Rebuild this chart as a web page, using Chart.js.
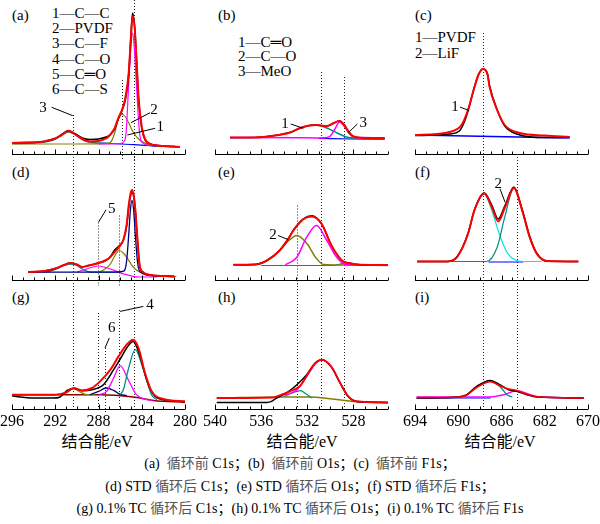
<!DOCTYPE html>
<html>
<head>
<meta charset="utf-8" />
<title>XPS spectra</title>
<script src="https://cdn.jsdelivr.net/npm/chart.js@4.4.0/dist/chart.umd.min.js"></script>
<style>
    body { margin: 0; background: #fff; }
    #fig { position: relative; width: 600px; height: 524px; background: #fff; overflow: hidden;
           font-family: "Liberation Serif", "Noto Sans CJK SC", serif; color: #000; }
    #fig canvas { position: absolute; }
    .t { position: absolute; font-size: 15px; line-height: 16px; white-space: nowrap; }
    .ax { position: absolute; font-size: 16px; line-height: 18px; white-space: nowrap; transform: translateX(-50%); }
    .cap { position: absolute; left: 0; width: 600px; text-align: center; font-size: 14px; line-height: 16px; white-space: nowrap; }
    .cap .z { color: #555; }
</style>
</head>
<body>
<div id="fig">
    <div class="t" style="left:12px;top:7px">(a)</div>
    <div class="t" style="left:218px;top:7px">(b)</div>
    <div class="t" style="left:415px;top:7px">(c)</div>
    <div class="t" style="left:12px;top:164px">(d)</div>
    <div class="t" style="left:218px;top:164px">(e)</div>
    <div class="t" style="left:415px;top:164px">(f)</div>
    <div class="t" style="left:12px;top:289px">(g)</div>
    <div class="t" style="left:218px;top:289px">(h)</div>
    <div class="t" style="left:415px;top:289px">(i)</div>

    <div class="t" style="left:52px;top:5px">1—C—C</div>
    <div class="t" style="left:52px;top:20px">2—PVDF</div>
    <div class="t" style="left:52px;top:35px">3—C—F</div>
    <div class="t" style="left:52px;top:51px">4—C—O</div>
    <div class="t" style="left:52px;top:66px">5—C═O</div>
    <div class="t" style="left:52px;top:81px">6—C—S</div>

    <div class="t" style="left:238px;top:34px">1—C═O</div>
    <div class="t" style="left:238px;top:48px">2—C—O</div>
    <div class="t" style="left:238px;top:63px">3—MeO</div>

    <div class="t" style="left:415px;top:29px">1—PVDF</div>
    <div class="t" style="left:415px;top:45px">2—LiF</div>

    <div class="ax" style="left:97px;top:433px">结合能/eV</div>
    <div class="ax" style="left:302px;top:433px">结合能/eV</div>
    <div class="ax" style="left:500px;top:433px">结合能/eV</div>

    <div class="cap" style="top:456px">(a)&nbsp; <span class="z">循环前</span> C1s；(b)&nbsp; <span class="z">循环前</span> O1s；(c)&nbsp; <span class="z">循环前</span> F1s；</div>
    <div class="cap" style="top:479px">(d) STD <span class="z">循环后</span> C1s；(e) STD <span class="z">循环后</span> O1s；(f) STD <span class="z">循环后</span> F1s；</div>
    <div class="cap" style="top:501px">(g) 0.1% TC <span class="z">循环后</span> C1s；(h) 0.1% TC <span class="z">循环后</span> O1s；(i) 0.1% TC <span class="z">循环后</span> F1s</div>
</div>
<script>
// binding energy axes (eV) for the three columns: C1s, O1s, F1s
var c1sRange = [280, 296];
var o1sRange = [525, 540];
var f1sRange = [678, 694];
var c1sTicks = [296, 292, 288, 284, 280];
var o1sTicks = [540, 536, 532, 528];
var f1sTicks = [694, 690, 686, 682, 678];
var c1sTickText = ['296', '292', '288', '284', '280'];
var o1sTickText = ['540', '536', '532', '528'];
var f1sTickText = ['694', '690', '686', '682', '670'];

// (a) before cycling, C1s  [eV, intensity]
var a_exp = [[296,11],[294.5,11.5],[293.4,12],[292.5,14],[292,15.5],[291.4,19.5],[290.8,23.5],[290.2,20.5],[289.5,16],[288.8,14.5],[288,15],[287.3,17],[286.9,19.5],[286.5,25],[286.2,34],[285.8,44],[285.5,55],[285.2,80],[285.0,118],[284.85,141],[284.65,126],[284.5,97],[284.3,56],[284.0,26],[283.7,14],[283.2,10],[282.5,8.5],[281,7.5],[280.5,7]];
var a_fit = [[296,11],[294.5,11.5],[293.4,12],[292.5,14],[292,15.5],[291.4,19],[290.8,23],[290.2,20],[289.5,15],[288.8,12.5],[288,13],[287.3,15.5],[286.9,19.5],[286.5,26],[286.2,35],[285.8,45],[285.5,57],[285.2,82],[285.0,117],[284.85,138],[284.65,126],[284.5,98],[284.3,57],[284.0,27],[283.7,15],[283.2,10],[282.5,8.5],[281,7.5],[280.5,7]];
var a_cf = [[296,10.5],[294,11],[293,12],[292.2,14],[291.5,18],[290.8,22],[290.1,19],[289.5,14.5],[288.8,12],[288,11],[287,10.5]];
var a_pvdf = [[296,10],[290,10],[288,10.2],[287.2,10.5],[286.9,11.5],[286.5,21],[286.2,34],[285.85,40],[285.5,37],[285.2,31],[284.8,22],[284.2,14],[283.2,9],[282,7.5],[280.5,7]];
var a_cc = [[288,10],[286,10.3],[285.6,13],[285.45,21],[285.2,71],[285.0,108],[284.85,121],[284.7,108],[284.5,71],[284.2,21],[284.0,12],[283.5,9],[282,8],[281,7.5]];
var a_bg = [[287.9,11],[285,9.5],[283.5,8.5],[282.6,7.5]];

// (b) before cycling, O1s
var b_exp = [[538.7,16.5],[536.5,16.5],[535.8,17],[534.5,19],[533.5,21.5],[532.6,26],[531.8,28.5],[531.3,29.5],[530.8,28.5],[530.3,28],[529.8,30],[529.2,33.5],[528.8,29.5],[528.4,22],[528.0,17.5],[527.5,16.5],[525.3,16]];
var b_fit = [[538.7,16.5],[536.5,16.5],[535.8,17],[534.5,19],[533.5,21.5],[532.6,26],[531.8,28.5],[531.3,29],[530.8,28.5],[530.3,28],[529.8,30.5],[529.2,33],[528.8,29],[528.4,22],[528.0,17.5],[527.5,16.5],[525.3,16]];
var b_co1 = [[538.7,16],[536.5,16.5],[535.8,17],[534.5,19],[533.5,21.5],[532.6,26],[531.8,28.5],[531.3,29],[530.8,28],[530.3,26],[529.4,21],[528.6,17],[527.5,15.5],[525.3,15]];
var b_meo = [[538.7,16.5],[533,16.3],[531,16],[530.3,16.5],[530.0,18],[529.6,25],[529.2,32],[528.8,28],[528.4,21],[528.0,17],[527.5,16],[525.3,16]];
var b_bg = [[531,15.5],[528,15],[525.3,14.7]];

// (c) before cycling, F1s
var c_exp = [[694,18.5],[692,19],[690.8,20],[689.9,23],[689.4,33],[689.1,43],[688.5,67],[688.1,80],[687.7,85],[687.3,80],[687.1,68],[686.4,44],[685.7,28],[684.3,19],[683.3,17],[682,16.5],[681,16.5],[679.7,17]];
var c_fit = [[694,19],[692,20],[690.8,22],[689.7,29],[689.1,44],[688.5,67],[688.1,80],[687.7,85],[687.3,80],[687.1,67],[686.4,44],[685.7,29],[684.3,21],[682,18.5],[679.7,17]];
var c_bg = [[694,19],[679.7,16]];

// (d) STD after cycling, C1s
var d_exp = [[294.5,8],[293,9],[292,11.5],[291.2,15],[290.6,17],[290,15.5],[289.5,13],[289.1,14],[288.5,15.5],[288.0,17],[287.4,19],[287.0,22],[286.5,30],[286.1,34],[285.7,40],[285.4,54],[285.2,73],[285.0,86],[284.9,88],[284.75,84],[284.6,70],[284.4,40],[284.2,15],[283.9,8],[283.2,5],[281,3.5]];
var d_fit = [[294.5,8],[293,9],[292,11.5],[291.2,15],[290.6,17],[290,15.5],[289.5,13],[289.1,14],[288.5,15.5],[288.0,17],[287.4,19.5],[287.0,22],[286.5,28],[286.1,33],[285.7,40],[285.4,55],[285.2,75],[285.0,88],[284.9,90],[284.75,85],[284.6,71],[284.4,41],[284.2,15],[283.9,8],[283.2,5],[281,3.5]];
var d_cf = [[294.5,8],[292.6,8.5],[291.9,11],[291.2,14.5],[290.6,16],[290,14.5],[289.5,11],[288.8,8],[286,7.8]];
var d_c2o = [[290.0,8],[289.1,11],[288.5,13],[288.0,14],[287.5,13],[286.9,11],[285.7,6.2],[284.2,3],[282.6,3]];
var d_pvdf = [[287.9,8],[287.4,11],[286.9,16],[286.5,24],[286.1,29.5],[285.7,27],[285.4,23],[284.8,13],[284.2,8],[282.9,4.5],[280.8,3.5]];
var d_cc = [[294.5,7.8],[286.5,7.8],[285.8,8.5],[285.6,9.5],[285.4,19],[285.2,46],[285.05,70],[284.9,79.5],[284.75,70],[284.6,46],[284.4,19],[284.2,8.8],[283.2,4.5],[281,3.5]];

// (e) STD after cycling, O1s
var e_exp = [[538.4,15.2],[536.5,15.5],[535.5,19.5],[534.4,29.5],[533.6,42],[533.2,50],[532.3,61.5],[531.6,64.2],[530.75,56],[529.9,34.5],[529.0,19.5],[528.4,17],[527.4,15.2],[525,15]];
var e_fit = [[538.4,15.2],[536.5,15.5],[535.5,19.5],[534.4,29.5],[533.6,42],[533.2,49.5],[532.3,61],[531.6,63.5],[530.75,56],[529.9,34.5],[529.0,19.5],[528.4,17],[527.4,15.2],[525,15]];
var e_co = [[538.4,15.2],[536.5,15.5],[535.5,19.5],[534.4,29.5],[533.6,39.5],[532.9,44.5],[532.0,36],[531.3,23],[530.6,15.5],[529,15],[525,14.5]];
var e_main = [[533.9,15.2],[532.9,22.8],[532.05,42.8],[531.2,54.5],[530.3,39.5],[529.45,22.8],[528.6,15.2],[525,15]];
var e_meo = [[536,14.5],[529.7,14.5],[528.6,17.2],[527.7,14.5],[526,14.5]];

// (f) STD after cycling, F1s
var f_exp = [[693.8,18.5],[691,18.5],[690.1,23.5],[689.1,46.5],[688.5,70],[687.6,87],[686.9,75],[686.3,61],[685.7,74],[684.85,93],[684.1,71],[683.4,44],[682.75,27],[681.8,19],[678.9,18.5]];
var f_fit = [[693.8,18.5],[691,18.5],[690.1,23],[689.1,46],[688.5,70],[687.6,86.5],[686.9,73],[686.3,58.5],[685.7,72],[684.85,92],[684.1,70],[683.4,43],[682.75,26.5],[681.8,19],[678.9,18.5]];
var f_pvdf = [[690.9,18.5],[690.1,22.8],[689.1,46.2],[688.5,69.5],[687.6,86.2],[686.9,69.5],[686.1,42.8],[685.4,26.2],[684.0,18.5],[682.3,18.5]];
var f_lif = [[691,18.5],[687.4,18.5],[686.4,32.8],[685.7,62.8],[684.85,91.8],[684.1,69.5],[683.4,42.8],[682.75,26.2],[681.8,18.5],[678.9,18.5]];
var f_bg = [[687.2,18],[684,18]];

// (g) 0.1% TC after cycling, C1s
var g_exp = [[296,13.3],[295.2,12],[294.3,11],[292.2,11],[291.6,11.8],[291.3,14.5],[290.9,18.5],[290.3,20.6],[289.9,19.5],[289.55,18.3],[288.6,19.3],[287.55,24.3],[286.6,39.3],[285.85,52.6],[285.4,61],[284.8,67.6],[284.15,52.6],[283.55,29.3],[282.9,14.3],[282.0,9.3],[280,7.6]];
var g_fit = [[296,14.3],[292,14.3],[291.0,16.6],[290.3,21],[289.55,18.6],[288.6,21],[287.85,27.6],[286.9,39.3],[286.15,52.6],[285.4,64.3],[284.8,69.3],[284.3,61],[283.7,36],[283.1,18],[282.0,10],[280,7.6]];
var g_bg = [[296,14.3],[287.9,14.3],[284.8,12],[282.9,8.6],[280,6.6]];
var g_cf = [[291.8,14.3],[290.9,16.5],[290.3,20.6],[289.7,17],[289.1,14.3],[288.3,14.3]];
var g_cs = [[288.8,14.3],[288.0,17.6],[287.3,21],[286.6,18.6],[286.0,14.6],[285.4,13.5]];
var g_co = [[287.9,14.3],[287.25,17.6],[286.6,31],[286.0,43.3],[285.25,29.3],[284.5,14.3],[283.55,9.3],[283,8.5]];
var g_cc = [[286.0,14.3],[285.7,19.3],[285.25,39.3],[284.6,59.3],[283.85,39.3],[283.1,14.3],[282.6,9.3]];

// (h) 0.1% TC after cycling, O1s
var h_exp = [[539.85,6.6],[535.5,6.6],[535.1,7.6],[534.65,11],[533.8,16],[532.9,24.3],[532.05,34.3],[531.3,46],[530.75,49.3],[529.9,42],[529.15,26],[528.45,12.6],[527.7,7.6],[525,6.6]];
var h_fit = [[539.85,11],[535,11.5],[534.4,13.6],[533.5,17.6],[532.6,23.3],[531.8,38],[531.3,46],[530.75,49.3],[529.9,42],[529.15,26],[528.45,12.6],[527.7,7.6],[525,6.6]];
var h_main = [[533.9,13.6],[532.9,19.3],[532.05,32.6],[531.3,45.3],[530.75,49.3],[529.9,42],[529.15,26],[528.45,12.6],[527.7,7.6],[526,6.6]];
var h_co = [[534.0,12.6],[533.3,16],[532.6,18.3],[532.1,15],[531.6,11]];
var h_bg = [[539.85,11],[533.8,12],[531.8,12],[529.8,10],[527.7,7.3],[525,6]];

// (i) 0.1% TC after cycling, F1s
var i_exp = [[693.85,11],[690.5,11.5],[689.2,14.3],[688.3,22.6],[687.05,28.6],[686.15,24.3],[685.35,19.3],[684.6,17.6],[683.65,14.3],[682.75,12],[678.4,11]];
var i_fit = [[693.85,11.5],[690.5,11.8],[689.2,14],[688.3,21.5],[687.05,27.3],[686.15,23.3],[685.35,20],[684.6,18.6],[683.65,14.8],[682.75,12.2],[678.4,11]];
var i_pvdf = [[690.5,12],[689.5,12.6],[688.45,21],[687.1,28],[686.15,22.6],[685.5,14.3],[685.0,12]];
var i_lif = [[693.85,12],[687.05,12],[685.8,14.3],[684.6,18.3],[683.35,14.3],[682.45,12],[678.4,11]];
var i_bg = [[693.85,11],[687,11]];

// dotted reference lines: [eV, start intensity or null for full height]
var a_refs = [[290.35, 39], [285.8, 74], [284.7, null]];
var b_refs = [[530.8, 82], [528.8, 77]];
var c_refs = [[687.7, 121]];
var d_refs = [[290.35, null], [288.05, 57.5], [286.1, 64.5], [284.7, null]];
var e_refs = [[532.9, 74.5], [530.8, null], [528.8, null]];
var f_refs = [[687.7, null], [684.6, null]];
var g_refs = [[290.35, null], [288.05, 96], [287.4, 61], [286.1, 99], [284.7, null]];
var h_refs = [[532.9, null], [530.8, null], [528.8, null]];
var i_refs = [[687.7, null], [684.6, null]];

var RED = '#ff0000', BLK = '#000000', MAG = '#ff00ff', TEAL = '#008b8b', CYAN = '#00e5e5',
    OLIVE = '#808000', BLUE = '#0000ff', NAVY = '#000080', BROWN = '#8b0000';

var cols = [
    { left: 12,  range: c1sRange, ticks: c1sTicks, text: c1sTickText },
    { left: 215, range: o1sRange, ticks: o1sTicks, text: o1sTickText },
    { left: 415, range: f1sRange, ticks: f1sTicks, text: f1sTickText }
];
var rows = [ { top: 0, h: 154 }, { top: 154, h: 126 }, { top: 280, h: 129 } ];
var plotW = 173;

// first series is drawn on top
var panels = [
    { col: 0, row: 0, refs: a_refs, series: [[a_fit, RED, 2], [a_exp, BLK, 1.5], [a_cc, MAG, 1.2], [a_pvdf, OLIVE, 1.2], [a_cf, TEAL, 1.5], [a_bg, BLUE, 1.2]],
      notes: [ { t: '3', at: [293.13, 46], from: [292.33, 46.7], to: [290.38, 38.3] },
               { t: '2', at: [282.86, 44], from: [283.23, 41.3], to: [285.0, 31.3] },
               { t: '1', at: [282.3, 27], from: [282.77, 25.7], to: [285.33, 19] } ] },
    { col: 1, row: 0, refs: b_refs, series: [[b_fit, RED, 2], [b_exp, BLK, 1.2], [b_meo, MAG, 1.5], [b_co1, TEAL, 1.5], [b_bg, BLUE, 1.2]],
      notes: [ { t: '1', at: [533.93, 30], from: [533.43, 30], to: [532.34, 25.7] },
               { t: '3', at: [527.14, 30.7], from: [527.66, 30], to: [528.44, 21.3] } ] },
    { col: 2, row: 0, refs: c_refs, series: [[c_fit, RED, 2], [c_exp, BLK, 1.5], [c_bg, BLUE, 1.5]],
      notes: [ { t: '1', at: [690.3, 47], from: [689.84, 47], to: [688.98, 43.3] } ] },
    { col: 0, row: 1, refs: d_refs, series: [[d_fit, RED, 2], [d_exp, BLK, 1.5], [d_cc, NAVY, 1.3], [d_pvdf, OLIVE, 1.2], [d_c2o, MAG, 1.2], [d_cf, TEAL, 1.3]],
      notes: [ { t: '5', at: [286.78, 71], from: [287.3, 70.2], to: [288.0, 57.8] } ] },
    { col: 1, row: 1, refs: e_refs, series: [[e_fit, RED, 2], [e_exp, BLK, 1.5], [e_main, MAG, 1.5], [e_co, OLIVE, 1.5], [e_meo, TEAL, 1.2]],
      notes: [ { t: '2', at: [534.97, 44.5], from: [534.54, 44.5], to: [533.67, 40.5] } ] },
    { col: 2, row: 1, refs: f_refs, series: [[f_fit, RED, 2], [f_exp, BLK, 1.5], [f_lif, TEAL, 1.2], [f_pvdf, CYAN, 1.2], [f_bg, BLUE, 1.2]],
      notes: [ { t: '2', at: [686.3, 96], from: [686.14, 91.2], to: [685.67, 77.8] } ] },
    { col: 0, row: 2, refs: g_refs, series: [[g_fit, RED, 2], [g_exp, BLK, 1.5], [g_cc, TEAL, 1.3], [g_co, MAG, 1.3], [g_cs, NAVY, 1.3], [g_cf, OLIVE, 1.3], [g_bg, BROWN, 1.5]],
      notes: [ { t: '4', at: [283.23, 104], from: [283.85, 102.6], to: [286.0, 97.6] },
               { t: '6', at: [286.78, 81], from: [287.0, 71], to: [287.4, 61] } ] },
    { col: 1, row: 2, refs: h_refs, series: [[h_fit, RED, 1.8], [h_exp, BLK, 1.5], [h_main, MAG, 1.5], [h_co, TEAL, 1.2], [h_bg, OLIVE, 1.5]],
      notes: [] },
    { col: 2, row: 2, refs: i_refs, series: [[i_fit, RED, 1.5], [i_exp, BLK, 1.5], [i_pvdf, TEAL, 1.3], [i_lif, MAG, 1.5], [i_bg, BLUE, 1.2]],
      notes: [] }
];

function decor(p) {
    var col = cols[p.col];
    return {
        id: 'decor',
        beforeDatasetsDraw: function (chart) {
            var ctx = chart.ctx, xs = chart.scales.x, ys = chart.scales.y, a = chart.chartArea;
            ctx.save();
            ctx.strokeStyle = '#222';
            ctx.lineWidth = 1;
            ctx.setLineDash([1, 2]);
            p.refs.forEach(function (r) {
                var x = Math.round(xs.getPixelForValue(r[0])) + 0.5;
                var y0 = r[1] == null ? a.top : ys.getPixelForValue(r[1]);
                var y1 = a.bottom + (p.row == 2 ? 3 : 6);
                ctx.beginPath();
                ctx.moveTo(x, y0);
                ctx.lineTo(x, y1);
                ctx.stroke();
            });
            ctx.restore();
        },
        afterDatasetsDraw: function (chart) {
            var ctx = chart.ctx, xs = chart.scales.x, ys = chart.scales.y, a = chart.chartArea;
            var yb = Math.round(a.bottom) + 0.5;
            ctx.save();
            ctx.strokeStyle = '#000';
            ctx.lineWidth = 1;
            ctx.beginPath();
            ctx.moveTo(a.left, yb);
            ctx.lineTo(a.right, yb);
            // inward ticks, major every 4 eV, minor every 1 eV
            for (var v = Math.ceil(col.range[0]); v <= col.range[1]; v++) {
                var x = Math.round(xs.getPixelForValue(v)) + 0.5;
                var major = col.ticks.indexOf(v) >= 0;
                ctx.moveTo(x, yb);
                ctx.lineTo(x, yb - (major ? 5 : 3));
            }
            ctx.stroke();

            ctx.fillStyle = '#000';
            if (p.row == 2) {
                ctx.font = '16px "Liberation Serif"';
                ctx.textAlign = 'center';
                ctx.textBaseline = 'middle';
                col.ticks.forEach(function (v, k) {
                    ctx.fillText(col.text[k], xs.getPixelForValue(v), yb + 12);
                });
            }

            // numbered leader lines
            ctx.font = '15px "Liberation Serif"';
            ctx.textAlign = 'center';
            ctx.textBaseline = 'middle';
            p.notes.forEach(function (n) {
                ctx.beginPath();
                ctx.moveTo(xs.getPixelForValue(n.from[0]), ys.getPixelForValue(n.from[1]));
                ctx.lineTo(xs.getPixelForValue(n.to[0]), ys.getPixelForValue(n.to[1]));
                ctx.stroke();
                ctx.fillText(n.t, xs.getPixelForValue(n.at[0]), ys.getPixelForValue(n.at[1]));
            });
            ctx.restore();
        }
    };
}

var fig = document.getElementById('fig');
panels.forEach(function (p) {
    var col = cols[p.col], row = rows[p.row];
    var padL = 14, padR = 14, padT = 0, padB = p.row == 2 ? 26 : 8;
    var canvas = document.createElement('canvas');
    canvas.width = plotW + padL + padR;
    canvas.height = row.h + padT + padB;
    canvas.style.left = (col.left - padL) + 'px';
    canvas.style.top = (row.top - padT) + 'px';
    fig.appendChild(canvas);

    var datasets = p.series.map(function (s) {
        return {
            data: s[0].map(function (pt) { return { x: pt[0], y: pt[1] }; }),
            borderColor: s[1],
            borderWidth: s[2],
            showLine: true,
            pointRadius: 0,
            fill: false,
            cubicInterpolationMode: 'monotone',
            clip: false
        };
    });

    new Chart(canvas, {
        type: 'scatter',
        data: { datasets: datasets },
        options: {
            responsive: false,
            animation: false,
            devicePixelRatio: 1,
            events: [],
            layout: { padding: { left: padL, right: padR, top: padT, bottom: padB } },
            plugins: { legend: { display: false }, tooltip: { enabled: false } },
            scales: {
                x: { type: 'linear', min: col.range[0], max: col.range[1], reverse: true, display: false },
                y: { min: 0, max: row.h, display: false }
            }
        },
        plugins: [decor(p)]
    });
});
</script>
</body>
</html>
